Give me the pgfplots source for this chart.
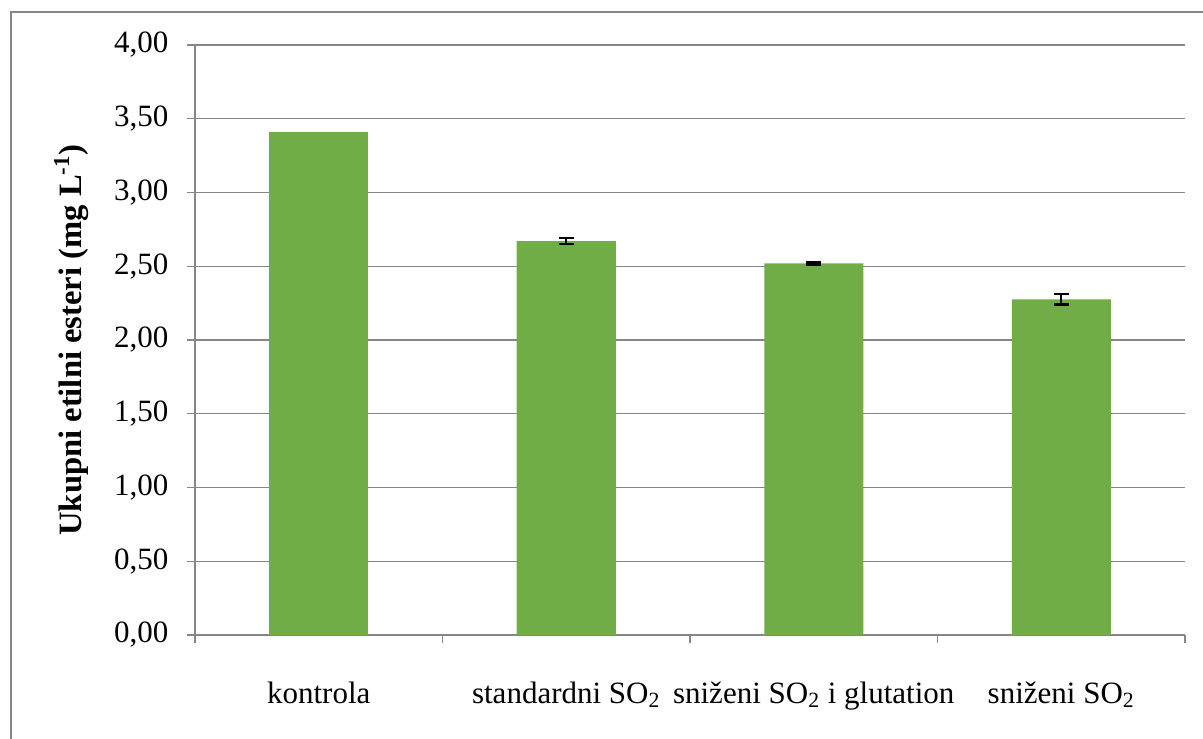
\documentclass[border=0pt]{standalone}
\usepackage{pgfplots}
\pgfplotsset{compat=1.18}
\usepackage{fontspec}
\setmainfont{Liberation Serif}
\definecolor{bargreen}{RGB}{112,173,71}
\definecolor{axgray}{RGB}{134,134,134}
\begin{document}
\fontsize{15.5}{18}\selectfont
\begin{tikzpicture}
\path[use as bounding box] (-97.5pt,-51.5pt) rectangle (504pt,317.5pt);
\begin{scope}
\clip (-97.5pt,-51.5pt) rectangle (504pt,317.5pt);
\draw[axgray, line width=1.2pt] (-92pt,-80pt) -- (-92pt,311.5pt) -- (540pt,311.5pt);
\end{scope}
\begin{axis}[
  at={(0,0)}, anchor=south west,
  width=495pt, height=295pt, scale only axis,
  xmin=-0.5, xmax=3.5, ymin=0, ymax=4,
  axis x line=bottom, axis y line=left,
  axis line style={-, draw=axgray, line width=0.8pt},
  xtick={0,1,2,3},
  xticklabels={kontrola, standardni SO\textsubscript{2}, sniženi SO\textsubscript{2} i glutation, sniženi SO\textsubscript{2}},
  minor xtick={-0.5,0.5,1.5,2.5,3.5},
  major x tick style={draw=none},
  minor x tick style={draw=axgray, line width=0.6pt},
  ytick={0,0.5,...,4},
  y tick style={draw=axgray, line width=0.6pt},
  tick align=outside,
  major tick length=4pt, minor tick length=4pt,
  ymajorgrids,
  grid style={draw=axgray, line width=0.6pt},
  /pgf/number format/fixed,
  /pgf/number format/fixed zerofill,
  /pgf/number format/precision=2,
  /pgf/number format/use comma,
  /pgf/number format/assume math mode=true,
  yticklabel style={xshift=-4pt},
  xticklabel style={yshift=-14pt},
  tick label style={font=\fontsize{15.5}{18}\selectfont},
  ylabel={\textbf{Ukupni etilni esteri (mg L\textsuperscript{-1})}},
  ylabel style={font=\fontsize{16.3}{19}\selectfont, yshift=2pt},
  clip=false,
]
\addplot[ybar, bar shift=0pt, bar width=49.5pt, fill=bargreen, draw=none] coordinates {(0,3.41)};
\addplot[ybar, bar shift=0pt, bar width=49.5pt, fill=bargreen, draw=none,
  error bars/.cd, y dir=both, y explicit,
  error bar style={line width=1pt, black},
  error mark options={rotate=90, mark size=3.8pt, line width=1.2pt, black}]
  coordinates {(1,2.67) +- (0,0.02) (2,2.52) +- (0,0.008) (3,2.275) +- (0,0.035)};
\end{axis}
\end{tikzpicture}
\end{document}
